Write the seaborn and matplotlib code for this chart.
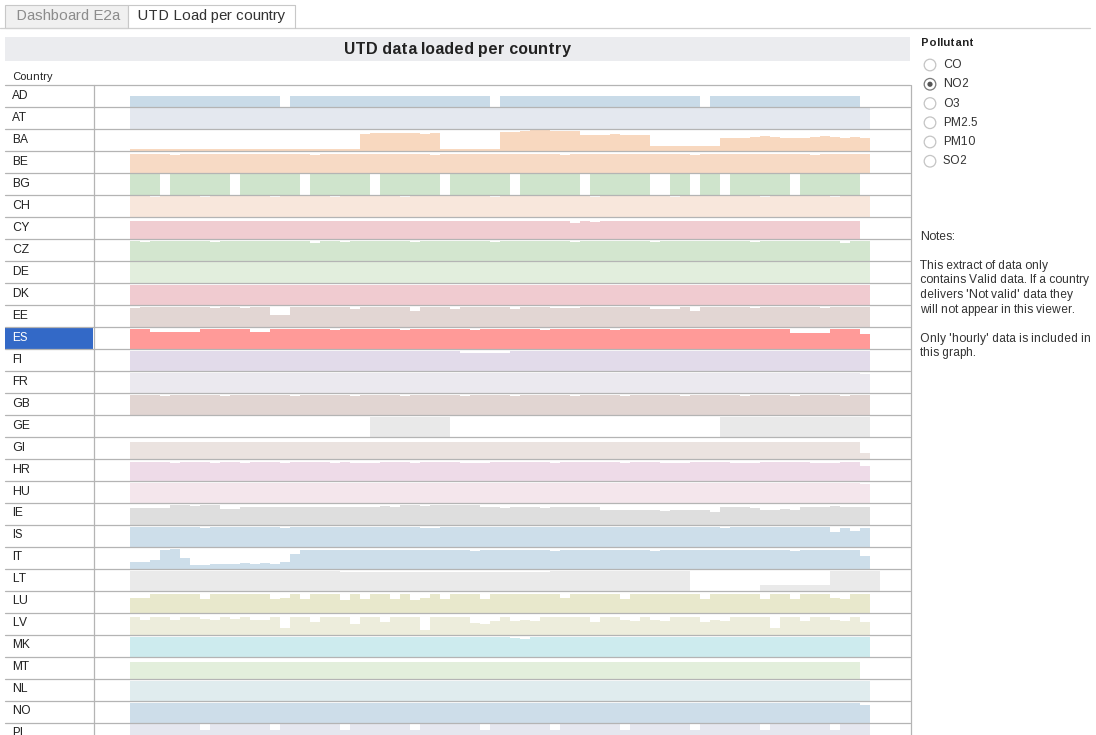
import matplotlib.pyplot as plt
from matplotlib.patches import Rectangle, Circle
import seaborn as sns

# countries in display order, one colour each
countries = ['AD', 'AT', 'BA', 'BE', 'BG', 'CH', 'CY', 'CZ', 'DE', 'DK',
             'EE', 'ES', 'FI', 'FR', 'GB', 'GE', 'GI', 'HR', 'HU', 'IE',
             'IS', 'IT', 'LT', 'LU', 'LV', 'MK', 'MT', 'NL', 'NO', 'PL']
row_colours = ['#c9dbe8', '#e4e8ef', '#f8d8bf', '#f7dac5', '#cfe4cc', '#f8e7dc',
               '#f0cdd1', '#d3e6cf', '#e2eedd', '#f0cbd0', '#e2d6d3', '#ff9a98',
               '#e2dbea', '#ebe9ef', '#e1d5d2', '#e9e9e9', '#ebe3e0', '#eedbe8',
               '#f4e6ec', '#dedede', '#cddeea', '#cddeea', '#eaeaea', '#e8e8cc',
               '#ededdc', '#cdebee', '#e3efdc', '#e0ecee', '#cddde9', '#e5e7ef']
highlight = 'ES'

# share of data loaded per period (0-100), 75 periods per country
AD = [50, 50, 50, 50, 50, 50, 50, 50, 50, 50, 50, 50, 50, 50, 50,
      0, 50, 50, 50, 50, 50, 50, 50, 50, 50, 50, 50, 50, 50, 50,
      50, 50, 50, 50, 50, 50, 0, 50, 50, 50, 50, 50, 50, 50, 50,
      50, 50, 50, 50, 50, 50, 50, 50, 50, 50, 50, 50, 0, 50, 50,
      50, 50, 50, 50, 50, 50, 50, 50, 50, 50, 50, 50, 50, 0, 0]
AT = [98, 98, 97, 98, 98, 98, 97, 98, 98, 98, 98, 97, 98, 98, 98,
      98, 97, 98, 98, 98, 98, 98, 97, 98, 98, 98, 98, 98, 97, 98,
      98, 98, 98, 97, 98, 98, 98, 98, 98, 98, 97, 98, 98, 98, 98,
      98, 97, 98, 98, 98, 98, 98, 98, 97, 98, 98, 98, 98, 98, 97,
      98, 98, 98, 98, 97, 98, 98, 98, 98, 98, 97, 98, 98, 98, 0]
BA = [9, 9, 9, 9, 9, 9, 9, 9, 9, 9, 9, 9, 9, 9, 9,
      9, 9, 9, 9, 9, 9, 9, 9, 78, 80, 80, 82, 82, 80, 78,
      80, 9, 9, 9, 9, 9, 9, 85, 88, 90, 96, 95, 90, 89, 90,
      75, 74, 74, 76, 74, 75, 73, 23, 23, 23, 23, 23, 23, 23, 58,
      60, 59, 64, 66, 62, 60, 58, 60, 64, 66, 64, 60, 62, 60, 0]
BE = [87, 86, 87, 87, 84, 87, 87, 86, 87, 87, 85, 87, 87, 86, 87,
      87, 86, 87, 84, 87, 87, 86, 87, 87, 87, 85, 87, 86, 87, 87,
      84, 87, 87, 87, 86, 87, 87, 85, 87, 87, 87, 86, 87, 84, 87,
      87, 86, 87, 87, 87, 85, 87, 86, 87, 87, 87, 84, 87, 87, 86,
      87, 87, 85, 87, 86, 87, 87, 87, 84, 87, 87, 86, 87, 87, 0]
BG = [97, 97, 97, 0, 97, 97, 97, 97, 97, 97, 0, 97, 97, 97, 97,
      97, 97, 0, 97, 97, 97, 97, 97, 97, 0, 97, 97, 97, 97, 97,
      97, 0, 97, 97, 97, 97, 97, 97, 0, 97, 97, 97, 97, 97, 97,
      0, 97, 97, 97, 97, 97, 97, 0, 0, 97, 97, 0, 97, 97, 0,
      97, 97, 97, 97, 97, 97, 0, 97, 97, 97, 97, 97, 97, 0, 0]
CH = [95, 95, 93, 95, 95, 95, 95, 92, 95, 95, 95, 95, 95, 95, 93,
      95, 95, 95, 95, 95, 92, 95, 95, 95, 95, 95, 95, 93, 95, 95,
      95, 95, 95, 95, 95, 95, 92, 95, 95, 95, 95, 95, 95, 95, 95,
      95, 93, 95, 95, 95, 95, 95, 95, 95, 92, 95, 95, 95, 95, 95,
      95, 95, 95, 93, 95, 95, 95, 95, 95, 95, 92, 95, 95, 95, 0]
CY = [80, 80, 80, 80, 80, 80, 80, 80, 80, 80, 80, 80, 80, 80, 80,
      80, 80, 80, 80, 80, 80, 80, 80, 80, 80, 80, 80, 80, 80, 80,
      80, 80, 80, 80, 80, 80, 80, 80, 80, 80, 80, 80, 80, 80, 74,
      80, 76, 80, 80, 80, 80, 80, 80, 80, 80, 80, 80, 80, 80, 80,
      80, 80, 80, 80, 80, 80, 80, 80, 80, 80, 80, 80, 80, 0, 0]
CZ = [90, 88, 90, 90, 90, 89, 90, 90, 88, 90, 90, 90, 89, 90, 90,
      90, 90, 90, 84, 90, 90, 88, 90, 90, 90, 89, 90, 90, 88, 90,
      90, 90, 89, 90, 90, 90, 88, 90, 90, 90, 90, 89, 90, 90, 88,
      90, 90, 90, 89, 90, 90, 90, 88, 90, 90, 90, 90, 89, 90, 90,
      90, 90, 88, 90, 90, 90, 89, 90, 90, 90, 90, 84, 90, 90, 0]
DE = [95, 95, 95, 95, 95, 94, 95, 95, 95, 95, 95, 95, 94, 95, 95,
      95, 95, 95, 95, 94, 95, 95, 95, 95, 95, 95, 95, 95, 94, 95,
      95, 95, 95, 95, 95, 95, 94, 95, 95, 95, 95, 95, 95, 95, 95,
      94, 95, 95, 95, 95, 95, 95, 95, 95, 94, 95, 95, 95, 95, 95,
      95, 95, 95, 94, 95, 95, 95, 95, 95, 95, 95, 95, 95, 95, 0]
DK = [93, 93, 93, 93, 93, 93, 93, 93, 93, 93, 93, 93, 93, 90, 93,
      93, 93, 93, 93, 93, 93, 93, 93, 93, 93, 93, 93, 90, 90, 90,
      93, 93, 93, 93, 90, 90, 90, 93, 93, 93, 93, 93, 93, 93, 93,
      93, 93, 93, 93, 93, 93, 93, 93, 93, 93, 93, 93, 93, 93, 93,
      93, 93, 93, 93, 93, 93, 93, 93, 93, 93, 93, 93, 93, 93, 0]
EE = [85, 90, 90, 90, 90, 90, 90, 90, 85, 90, 90, 85, 90, 90, 55,
      55, 90, 90, 90, 90, 90, 90, 82, 90, 90, 90, 90, 90, 72, 90,
      90, 90, 82, 90, 90, 90, 90, 90, 82, 90, 90, 90, 85, 85, 85,
      90, 90, 90, 90, 90, 90, 90, 82, 82, 82, 90, 75, 90, 90, 90,
      90, 90, 85, 90, 90, 90, 90, 90, 90, 85, 90, 90, 90, 90, 0]
ES = [93, 93, 78, 78, 78, 78, 78, 93, 93, 93, 93, 93, 76, 76, 93,
      93, 93, 93, 93, 93, 85, 93, 93, 93, 93, 93, 93, 85, 93, 93,
      93, 93, 93, 93, 85, 93, 93, 93, 93, 93, 93, 85, 93, 93, 93,
      93, 93, 93, 85, 93, 93, 93, 93, 93, 93, 93, 93, 93, 93, 93,
      93, 93, 93, 93, 93, 93, 72, 72, 72, 72, 92, 92, 92, 70, 0]
FI = [92, 92, 92, 92, 92, 92, 92, 92, 92, 92, 92, 92, 92, 92, 92,
      92, 92, 92, 92, 92, 92, 92, 92, 92, 92, 92, 92, 92, 92, 92,
      92, 92, 92, 82, 82, 82, 82, 82, 92, 92, 92, 92, 92, 92, 92,
      92, 92, 92, 92, 92, 92, 92, 92, 92, 92, 92, 92, 92, 92, 92,
      92, 92, 92, 92, 92, 92, 92, 92, 92, 92, 92, 92, 92, 92, 0]
FR = [92, 92, 92, 92, 92, 92, 92, 92, 92, 92, 92, 92, 92, 92, 92,
      92, 92, 92, 92, 92, 92, 92, 92, 92, 92, 92, 92, 92, 92, 92,
      92, 92, 92, 92, 92, 92, 92, 92, 92, 92, 92, 92, 92, 92, 92,
      92, 92, 92, 92, 92, 92, 92, 92, 92, 92, 92, 92, 92, 92, 92,
      92, 92, 92, 92, 92, 92, 92, 92, 92, 92, 92, 92, 92, 85, 0]
GB = [91, 91, 91, 88, 91, 91, 91, 91, 91, 88, 91, 91, 91, 91, 91,
      91, 88, 91, 91, 91, 91, 91, 88, 91, 91, 91, 91, 88, 91, 91,
      91, 91, 91, 88, 91, 91, 91, 91, 88, 91, 91, 91, 91, 91, 88,
      91, 91, 91, 91, 88, 91, 91, 91, 91, 91, 88, 91, 91, 91, 91,
      91, 88, 91, 91, 91, 91, 88, 91, 91, 91, 91, 88, 91, 91, 0]
GE = [0, 0, 0, 0, 0, 0, 0, 0, 0, 0, 0, 0, 0, 0, 0,
      0, 0, 0, 0, 0, 0, 0, 0, 0, 92, 92, 92, 92, 92, 92,
      92, 92, 0, 0, 0, 0, 0, 0, 0, 0, 0, 0, 0, 0, 0,
      0, 0, 0, 0, 0, 0, 0, 0, 0, 0, 0, 0, 0, 0, 92,
      92, 92, 92, 92, 92, 92, 92, 92, 92, 92, 92, 92, 92, 92, 0]
GI = [76, 76, 76, 76, 76, 76, 76, 76, 76, 76, 76, 76, 76, 76, 76,
      76, 76, 76, 76, 76, 76, 76, 76, 76, 76, 76, 76, 76, 76, 76,
      76, 76, 76, 76, 76, 76, 76, 76, 76, 76, 76, 76, 76, 76, 76,
      76, 76, 76, 76, 76, 76, 76, 76, 76, 76, 76, 76, 76, 76, 76,
      76, 76, 76, 76, 76, 76, 76, 76, 76, 76, 76, 76, 76, 26, 0]
HR = [87, 87, 87, 87, 80, 87, 87, 87, 80, 87, 87, 80, 87, 87, 87,
      80, 87, 87, 87, 87, 80, 87, 80, 80, 80, 87, 87, 87, 80, 87,
      87, 87, 87, 80, 80, 80, 87, 87, 87, 87, 87, 87, 80, 87, 87,
      87, 87, 87, 87, 80, 87, 87, 87, 80, 80, 80, 87, 87, 87, 87,
      80, 82, 80, 87, 87, 87, 87, 87, 80, 82, 80, 87, 87, 70, 0]
HU = [90, 90, 90, 90, 90, 90, 90, 90, 90, 90, 90, 90, 90, 90, 90,
      90, 90, 90, 90, 90, 90, 90, 90, 90, 90, 90, 90, 90, 90, 90,
      90, 90, 90, 90, 90, 90, 90, 90, 90, 90, 90, 90, 90, 90, 90,
      90, 90, 90, 90, 90, 90, 90, 90, 90, 90, 90, 90, 90, 90, 90,
      90, 90, 90, 90, 90, 90, 90, 90, 90, 90, 90, 90, 90, 85, 0]
IE = [76, 76, 78, 76, 90, 90, 88, 90, 90, 72, 72, 83, 83, 82, 83,
      83, 83, 81, 83, 83, 83, 82, 83, 84, 84, 86, 84, 90, 90, 88,
      90, 90, 90, 89, 90, 80, 80, 78, 80, 80, 80, 79, 80, 80, 80,
      80, 80, 66, 66, 67, 66, 66, 66, 65, 66, 66, 66, 66, 58, 80,
      80, 80, 78, 70, 70, 72, 70, 84, 84, 84, 85, 84, 84, 84, 0]
IS = [90, 90, 90, 90, 90, 90, 90, 86, 90, 90, 90, 90, 90, 90, 90,
      85, 90, 90, 90, 90, 90, 90, 90, 90, 90, 90, 90, 90, 90, 86,
      86, 90, 90, 90, 90, 90, 90, 90, 90, 90, 90, 90, 90, 90, 90,
      90, 90, 90, 90, 90, 90, 90, 90, 90, 90, 90, 90, 90, 90, 86,
      90, 90, 90, 90, 90, 90, 90, 90, 90, 90, 70, 88, 75, 88, 0]
IT = [33, 33, 40, 88, 90, 50, 18, 20, 24, 22, 25, 26, 25, 26, 24,
      30, 70, 86, 87, 86, 86, 85, 86, 87, 86, 86, 85, 86, 86, 87,
      86, 86, 85, 86, 82, 86, 86, 86, 86, 87, 86, 86, 84, 86, 86,
      86, 86, 86, 85, 86, 86, 86, 82, 86, 86, 86, 86, 86, 85, 86,
      86, 86, 86, 86, 86, 86, 84, 86, 86, 86, 86, 86, 86, 60, 0]
LT = [92, 92, 92, 92, 92, 92, 92, 92, 92, 92, 92, 92, 92, 92, 92,
      92, 92, 92, 92, 92, 92, 86, 86, 86, 86, 86, 86, 86, 86, 86,
      86, 86, 86, 86, 86, 86, 86, 86, 86, 86, 86, 86, 92, 92, 92,
      92, 92, 92, 92, 92, 92, 92, 92, 92, 92, 92, 0, 0, 0, 0,
      0, 0, 0, 26, 26, 26, 26, 26, 26, 26, 92, 92, 92, 92, 92]
LU = [70, 66, 86, 86, 86, 86, 86, 62, 86, 86, 86, 86, 86, 86, 62,
      66, 86, 62, 86, 86, 86, 60, 86, 64, 86, 86, 62, 86, 60, 66,
      86, 62, 86, 86, 86, 64, 86, 86, 86, 86, 86, 86, 86, 66, 86,
      86, 86, 86, 86, 64, 86, 86, 86, 86, 86, 86, 86, 64, 86, 86,
      86, 86, 86, 62, 86, 86, 64, 86, 86, 86, 66, 62, 86, 86, 0]
LV = [83, 70, 83, 83, 68, 83, 83, 72, 66, 83, 72, 83, 68, 70, 83,
      30, 83, 83, 60, 83, 83, 83, 50, 83, 83, 60, 83, 83, 83, 23,
      83, 83, 83, 83, 55, 50, 62, 83, 65, 70, 62, 83, 83, 83, 83,
      83, 60, 83, 83, 70, 62, 83, 68, 62, 83, 83, 83, 60, 70, 65,
      83, 83, 83, 83, 30, 83, 83, 65, 83, 83, 70, 62, 83, 60, 0]
MK = [90, 90, 90, 90, 90, 90, 90, 90, 90, 90, 90, 90, 90, 90, 90,
      90, 90, 90, 90, 90, 90, 90, 90, 90, 90, 90, 90, 90, 90, 90,
      90, 90, 90, 90, 90, 90, 90, 90, 86, 84, 90, 90, 90, 90, 90,
      90, 90, 90, 90, 90, 90, 90, 90, 90, 90, 90, 90, 90, 90, 90,
      90, 90, 90, 90, 90, 90, 90, 90, 90, 90, 90, 90, 90, 90, 0]
MT = [77, 77, 77, 77, 77, 77, 77, 77, 77, 77, 77, 77, 77, 77, 77,
      77, 77, 77, 77, 77, 77, 77, 77, 77, 77, 77, 77, 77, 77, 77,
      77, 77, 77, 77, 77, 77, 77, 77, 77, 77, 77, 77, 77, 77, 77,
      77, 77, 77, 77, 77, 77, 77, 77, 77, 77, 77, 77, 77, 77, 77,
      77, 77, 77, 77, 77, 77, 77, 77, 77, 77, 77, 77, 77, 0, 0]
NL = [92, 92, 92, 92, 92, 92, 92, 90, 92, 92, 92, 92, 92, 92, 92,
      92, 92, 90, 92, 92, 92, 92, 92, 92, 92, 92, 92, 90, 92, 92,
      92, 92, 92, 92, 92, 92, 92, 90, 92, 92, 92, 92, 92, 92, 92,
      92, 90, 92, 92, 92, 92, 92, 92, 92, 92, 92, 90, 92, 92, 92,
      92, 92, 92, 92, 92, 92, 90, 92, 92, 92, 92, 92, 92, 92, 0]
NO = [92, 92, 92, 92, 92, 92, 92, 92, 92, 92, 92, 92, 92, 92, 92,
      92, 92, 92, 92, 92, 92, 92, 92, 90, 92, 92, 92, 92, 92, 92,
      92, 92, 92, 92, 92, 92, 92, 92, 92, 92, 92, 92, 92, 92, 92,
      92, 92, 92, 92, 92, 92, 92, 92, 92, 92, 92, 92, 92, 92, 92,
      92, 92, 92, 92, 92, 92, 92, 92, 92, 92, 92, 92, 92, 80, 0]
PL = [95, 95, 95, 95, 95, 95, 95, 70, 95, 95, 95, 95, 95, 95, 70,
      95, 95, 95, 95, 95, 95, 70, 95, 95, 95, 95, 95, 95, 70, 95,
      95, 95, 95, 95, 95, 70, 95, 95, 95, 95, 95, 95, 70, 95, 95,
      95, 95, 95, 95, 70, 95, 95, 95, 95, 95, 95, 70, 95, 95, 95,
      95, 95, 95, 70, 95, 95, 95, 95, 95, 95, 70, 95, 95, 95, 0]

load_rows = [AD, AT, BA, BE, BG, CH, CY, CZ, DE, DK, EE, ES, FI, FR, GB,
             GE, GI, HR, HU, IE, IS, IT, LT, LU, LV, MK, MT, NL, NO, PL]
periods = list(range(75))

pollutants = ['CO', 'NO2', 'O3', 'PM2.5', 'PM10', 'SO2']
selected = 'NO2'
notes = ['Notes:', '', 'This extract of data only',
         'contains Valid data. If a country',
         "delivers 'Not valid' data they",
         'will not appear in this viewer.', '',
         "Only 'hourly' data is included in", 'this graph.']

sns.set_theme(style='white')
plt.rcParams['font.family'] = ['Liberation Sans', 'DejaVu Sans']
plt.rcParams['text.hinting_factor'] = 1

W, H = 1096, 735
fig = plt.figure(figsize=(W / 100, H / 100), dpi=100)
fig.patch.set_facecolor('white')

# layout of the table in pixels
row_top, row_h = 85, 22
x_left, x_right = 93, 910

# one strip of bars per country
for i, (vals, col) in enumerate(zip(load_rows, row_colours)):
    bottom = H - (row_top + row_h * (i + 1))
    ax = fig.add_axes([x_left / W, bottom / H, (x_right - x_left) / W, row_h / H])
    sns.barplot(x=periods, y=vals, native_scale=True, width=1, color=col,
                saturation=1, linewidth=0, errorbar=None, ax=ax)
    ax.set_xlim(-4.2, 77.5)
    ax.set_ylim(0, 100)
    ax.set_axis_off()

# frame, labels and side panel drawn on top in pixel units
fr = fig.add_axes([0, 0, 1, 1], zorder=5)
fr.set_xlim(0, W)
fr.set_ylim(H, 0)
fr.set_axis_off()

line_c = '#b4b4b4'

# tabs
fr.plot([0, 1090], [27.5, 27.5], color='#cfcfcf', lw=0.9)
fr.add_patch(Rectangle((5, 4.5), 123, 23, facecolor='#f0f0f0', edgecolor='#c8c8c8', lw=0.8))
fr.add_patch(Rectangle((128, 4.5), 167, 23.5, facecolor='white', edgecolor='none'))
fr.plot([128, 128, 295, 295], [28, 4.5, 4.5, 28], color='#c8c8c8', lw=0.8)
fr.text(16, 16, 'Dashboard E2a', fontsize=10.5, color='#8c8c8c', va='center')
fr.text(138, 16, 'UTD Load per country', fontsize=10.5, color='#333333', va='center')

# title band
fr.add_patch(Rectangle((5, 37), 905, 24, facecolor='#ebecef', edgecolor='none'))
fr.text(457, 49.5, 'UTD data loaded per country', fontsize=11.5, fontweight='bold',
        color='#222222', ha='center', va='center')
fr.text(12, 76.5, 'Country', fontsize=8, color='#222222', va='center')

# row labels
for i, name in enumerate(countries):
    yc = row_top + row_h * i + row_h / 2 - 0.5
    tc = '#222222'
    if name == highlight:
        fr.add_patch(Rectangle((5, row_top + row_h * i + 0.5), 88, row_h - 0.5,
                               facecolor='#3369c7', edgecolor='none'))
        tc = 'white'
    fr.text(12, yc, name, fontsize=8.5, color=tc, va='center')

# grid lines
for i in range(len(countries) + 1):
    y = row_top + row_h * i
    fr.plot([5, x_right], [y, y], color=line_c, lw=0.9)
fr.plot([x_left + 0.5, x_left + 0.5], [row_top, H], color=line_c, lw=0.9)
fr.plot([x_right + 0.5, x_right + 0.5], [row_top, H], color=line_c, lw=0.9)

# pollutant selector
fr.text(921, 43, 'Pollutant', fontsize=8, fontweight='bold', color='#222222', va='center')
for k, p in enumerate(pollutants):
    y = 65 + 19.25 * k
    on = p == selected
    fr.add_patch(Circle((930, y), 5.8, facecolor='white',
                        edgecolor='#7a7a7a' if on else '#c4c4c4', lw=0.9))
    if on:
        fr.add_patch(Circle((930, y), 2.6, facecolor='#555555', edgecolor='none'))
    fr.text(943, y, p, fontsize=8.5, color='#333333', va='center')

# notes
for k, line in enumerate(notes):
    fr.text(920, 236.5 + 14.6 * k, line, fontsize=8.5, color='#333333', va='center')

fig.savefig('out.png', dpi=100)
